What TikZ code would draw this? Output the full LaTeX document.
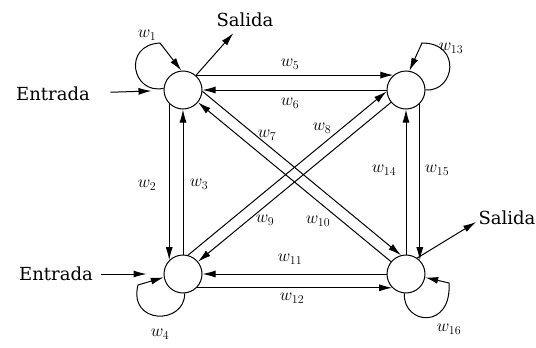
\documentclass[tikz,border=0pt]{standalone}
\usepackage{fontspec}
\newfontfamily\rotfont{DejaVu Serif}
\usetikzlibrary{arrows.meta}

\begin{document}
\begin{tikzpicture}[x=1pt, y=-1pt, line width=1pt,
  neurona/.style={draw, circle, minimum size=38pt, inner sep=0pt},
  peso/.style={font=\fontsize{17}{17}\selectfont, inner sep=1pt},
  rotulo/.style={font=\rotfont\fontsize{18}{18}\selectfont, inner sep=2pt},
  flecha/.style={-{Latex[length=13pt, width=7pt]}}
]
  \useasboundingbox (0,0) rectangle (536,348);

  \node[neurona] (n1) at (183,90) {};
  \node[neurona] (n2) at (406,90) {};
  \node[neurona] (n3) at (183,274) {};
  \node[neurona] (n4) at (406,274) {};

  \node[rotulo] (e1) at (53,94) {Entrada};
  \node[rotulo] (e2) at (56,274) {Entrada};
  \node[rotulo] (s1) at (245,20) {Salida};
  \node[rotulo] (s2) at (507,218) {Salida};

  \draw[flecha, shorten <=18pt, shorten >=12pt] (e1) -- (n1);
  \draw[flecha, shorten <=6pt, shorten >=17pt] (e2) -- (n3);
  \draw[flecha, shorten >=5pt] (n1) -- (s1);
  \draw[flecha] (n4.55) -- ([yshift=-4pt]s2.west);

  \draw[flecha] (n1.50) -- (n2.130);
  \draw[flecha] (n2) -- (n1);
  \draw[flecha] (n1.-135) -- (n3.135);
  \draw[flecha] (n3) -- (n1);
  \draw[flecha] (n4) -- (n2);
  \draw[flecha] (n2.-45) -- (n4.45);
  \draw[flecha] (n4) -- (n3);
  \draw[flecha] (n3.-45) -- (n4.-135);
  \draw[flecha] (n1.-4) -- (n4.105);
  \draw[flecha] (n4) -- (n1);
  \draw[flecha] (n3.75) -- (n2.184);
  \draw[flecha] (n2) -- (n3);

  \draw[flecha] (n1.175) .. controls (132,95) and (122,45) .. (160,43) -- (n1.95);
  \draw[flecha] (n2.0) .. controls (455,92) and (462,43) .. (422,43) -- (n2.80);
  \draw[flecha] (n3.-85) .. controls (185,325) and (128,325) .. (138,285) -- (n3.190);
  \draw[flecha] (n4.-95) .. controls (403,325) and (452,330) .. (449,283) -- (n4.-10);

  \node[peso] (w1) at (147,35) {$w_1$};
  \node[peso] (w2) at (147,185) {$w_2$};
  \node[peso] (w3) at (199,184) {$w_3$};
  \node[peso] (w4) at (160,334) {$w_4$};
  \node[peso] (w5) at (290,64) {$w_5$};
  \node[peso] (w6) at (290,103) {$w_6$};
  \node[peso] (w7) at (267,135) {$w_7$};
  \node[peso] (w8) at (322,128) {$w_8$};
  \node[peso] (w9) at (265,220) {$w_9$};
  \node[peso] (w10) at (318,221) {$w_{10}$};
  \node[peso] (w11) at (290,259) {$w_{11}$};
  \node[peso] (w12) at (292,298) {$w_{12}$};
  \node[peso] (w13) at (451,48) {$w_{13}$};
  \node[peso] (w14) at (384,170) {$w_{14}$};
  \node[peso] (w15) at (437,170) {$w_{15}$};
  \node[peso] (w16) at (449,329) {$w_{16}$};
\end{tikzpicture}
\end{document}
